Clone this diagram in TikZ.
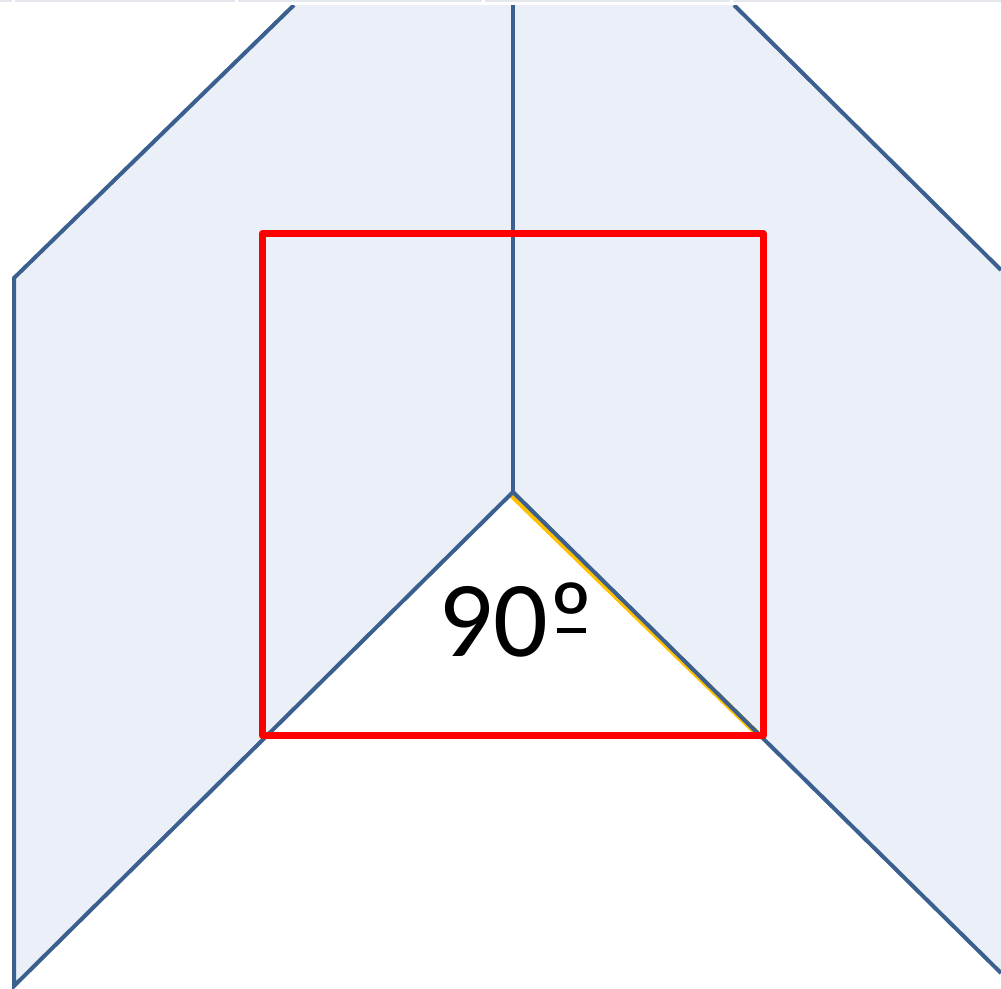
\documentclass[tikz,border=0pt]{standalone}
\usepackage{fontspec}
\newfontfamily\calfont{Carlito}
\definecolor{panelfill}{HTML}{EBF0F8}
\definecolor{panelline}{HTML}{3B5F8E}
\definecolor{squarered}{HTML}{FF0000}
\definecolor{edgeorange}{HTML}{FFC000}
\definecolor{topgrey}{HTML}{E4E7EC}
\tikzset{
  panel/.style={fill=panelfill, draw=none},
  panelstroke/.style={draw=panelline, line width=4pt, line join=miter},
  redsquare/.style={draw=squarered, line width=7pt, line join=round},
  greystrip/.style={fill=topgrey, draw=none},
}
\newcommand{\ordind}{{\ooalign{º\cr\hfil\raisebox{23pt}{\rule{29pt}{5pt}}\hfil\cr}}}
\begin{document}
\begin{tikzpicture}[x=1pt,y=-1pt]
\useasboundingbox (0,0) rectangle (1001,988);
% faint strip at the top
\fill[greystrip] (0,0) rectangle (12,2);
\fill[greystrip] (15,0) rectangle (235,2);
\fill[greystrip] (238,0) rectangle (482,2);
\fill[greystrip] (485,0) rectangle (730,2);
\fill[greystrip] (733,0) rectangle (1001,2);
\begin{scope}
\clip (0,5) rectangle (1001,988);
% panels
\fill[panel] (14,278) -- (294,5) -- (513,5) -- (513,492) -- (14,986) -- cycle;
\fill[panel] (513,5) -- (734,5) -- (1001,270) -- (1001,973) -- (513,492) -- cycle;
% orange inner edge
\begin{scope}
\clip (513,492) -- (262,735) -- (763,735) -- cycle;
\draw[draw=edgeorange, line width=12pt] (513,492) -- (763,735);
\end{scope}
% panel outlines
\draw[panelstroke] (294,5) -- (14,278) -- (14,986) -- (513,492) -- (1001,973);
\draw[panelstroke] (513,5) -- (513,492);
\draw[panelstroke] (734,5) -- (1001,270);
\end{scope}
% red square
\draw[redsquare] (262.5,233.5) rectangle (763,735.5);
% label
\node[anchor=base, inner sep=0pt, font=\calfont\fontsize{108}{120}\selectfont] (lbl) at (516.5,656) {90\ordind};
\end{tikzpicture}
\end{document}
